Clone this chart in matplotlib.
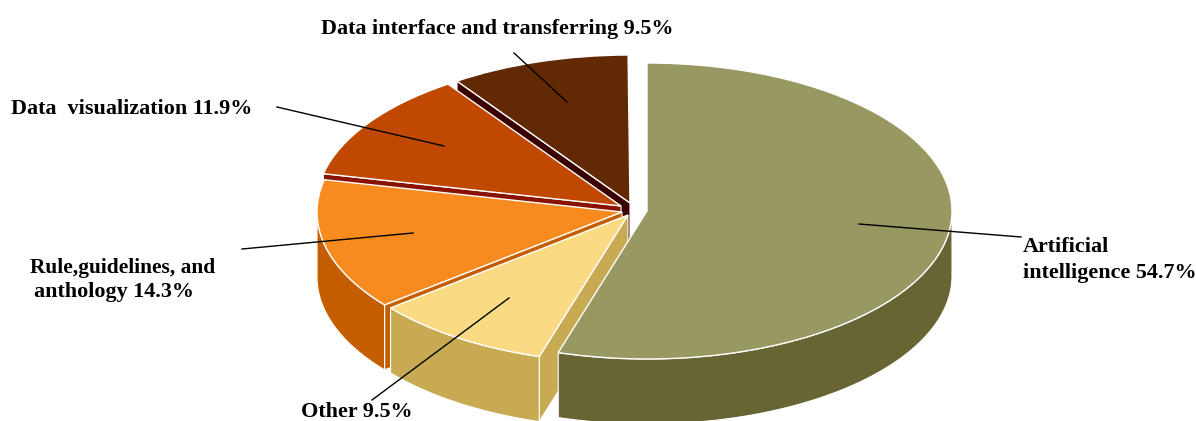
import matplotlib

matplotlib.use("Agg")
import matplotlib.pyplot as plt
import numpy as np
from matplotlib.patches import Wedge
from matplotlib.transforms import Affine2D

# shares, clockwise from 12 o'clock
names = ["Artificial intelligence", "Other", "Rule, guidelines, and anthology", "Data visualization", "Data interface and transferring"]
shares = [54.7, 9.5, 14.3, 11.9, 9.5]

top_colors = ["#989862", "#FADA82", "#F78B20", "#C04800", "#622A04"]
wall_colors = ["#666533", "#C8AA52", "#C55E00", "#8A1200", "#3A0000"]

# exploded apex of each slice, in pixels
apex_x = [647, 628, 622, 621, 630]
apex_y = [211, 215, 212, 206, 203]

RX, RY = 305, 148
DEPTH = 65

plt.rcParams["font.family"] = ["Liberation Serif", "DejaVu Serif"]

fig = plt.figure(figsize=(11.96, 4.21), dpi=100)
ax = fig.add_axes([0, 0, 1, 1])
ax.set_xlim(0, 1196)
ax.set_ylim(421, 0)
ax.axis("off")


def rim(i, clock_deg):
    t = np.radians(clock_deg)
    return apex_x[i] + RX * np.sin(t), apex_y[i] - RY * np.cos(t)


def extrude(xs, ys, color, z):
    xs = np.asarray(xs, dtype=float)
    ys = np.asarray(ys, dtype=float)
    ax.fill(
        np.r_[xs, xs[::-1]],
        np.r_[ys, ys[::-1] + DEPTH],
        facecolor=color,
        edgecolor="white",
        lw=0.8,
        zorder=z,
    )


edges = np.r_[0, np.cumsum(shares)] * 3.6

# painter's order: back slices first, the big front slice last
for z, i in enumerate([4, 3, 2, 1, 0]):
    start, stop = edges[i], edges[i + 1]
    base = z * 10

    # the cut side at the start angle faces the viewer
    if i != 0:
        x, y = rim(i, start)
        extrude([apex_x[i], x], [apex_y[i], y], wall_colors[i], base)

    # outer wall, only the part on the near half of the ellipse
    lo, hi = max(start, 90), min(stop, 270)
    if lo < hi:
        x, y = rim(i, np.linspace(lo, hi, 80))
        extrude(x, y, wall_colors[i], base + 1)

    tr = Affine2D().scale(RX, -RY).translate(apex_x[i], apex_y[i]) + ax.transData
    ax.add_patch(
        Wedge(
            (0, 0),
            1,
            90 - stop,
            90 - start,
            facecolor=top_colors[i],
            edgecolor="white",
            lw=1.0,
            transform=tr,
            zorder=base + 2,
        )
    )

# leader lines
leaders = [
    ((514, 53), (567, 102)),
    ((277, 107), (444, 146)),
    ((242, 249), (413, 233)),
    ((372, 400), (509, 298)),
    ((859, 224), (1021, 237)),
]
for a, b in leaders:
    ax.plot([a[0], b[0]], [a[1], b[1]], color="black", lw=1.0, zorder=100)

style = dict(fontsize=15.9, fontweight="bold", color="black", va="center", ha="left", zorder=110)
ax.text(321, 29, "Data interface and transferring 9.5%", **style)
ax.text(11, 109, "Data  visualization 11.9%", **style)
ax.text(30, 268, "Rule,guidelines, and", **{**style, "fontsize": 15.4})
ax.text(34, 292, "anthology 14.3%", **style)
ax.text(301, 412, "Other 9.5%", **style)
ax.text(1023, 247, "Artificial", **style)
ax.text(1023, 273, "intelligence 54.7%", **style)

fig.savefig("out.png", dpi=100)
